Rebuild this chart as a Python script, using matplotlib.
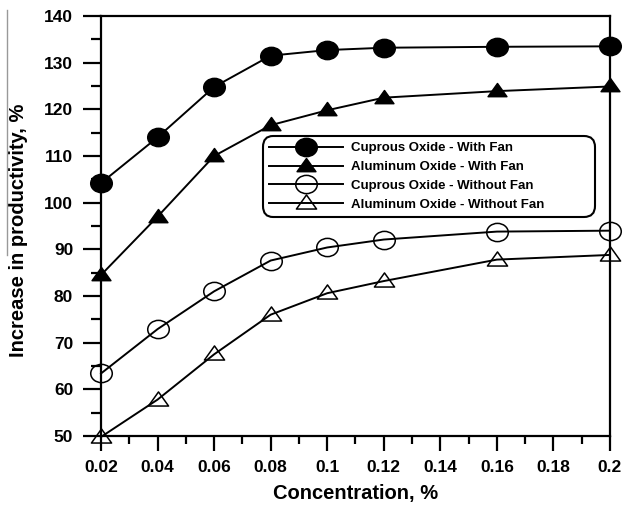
import numpy as np
import matplotlib
matplotlib.use('Agg')
import matplotlib.pyplot as plt
from matplotlib.path import Path
from matplotlib.lines import Line2D
from matplotlib.ticker import MultipleLocator

plt.rcParams['font.family'] = ['Liberation Sans', 'DejaVu Sans']
plt.rcParams['font.weight'] = 'bold'

# data
conc = [0.02, 0.04, 0.06, 0.08, 0.1, 0.12, 0.16, 0.2]
cu_fan = [104.2, 114.0, 124.8, 131.5, 132.7, 133.2, 133.4, 133.5]
al_fan = [84.5, 97.0, 110.0, 116.6, 119.8, 122.5, 123.9, 124.9]
cu_nofan = [63.4, 72.9, 81.0, 87.6, 90.4, 92.1, 93.8, 94.0]
al_nofan = [49.8, 57.8, 67.5, 76.0, 80.6, 83.2, 87.8, 88.8]
labels = ['Cuprous Oxide - With Fan', 'Aluminum Oxide - With Fan',
          'Cuprous Oxide - Without Fan', 'Aluminum Oxide - Without Fan']
xticks = [0.02, 0.04, 0.06, 0.08, 0.1, 0.12, 0.14, 0.16, 0.18, 0.2]
xticklabels = ['0.02', '0.04', '0.06', '0.08', '0.1', '0.12', '0.14', '0.16', '0.18', '0.2']

# slightly squashed markers, like the picture
circ = Path.unit_circle()
ellipse = Path(circ.vertices * np.array([1.18, 1.0]), circ.codes)
tri = Path([(-1.0, -0.55), (1.0, -0.55), (0.0, 0.85), (-1.0, -0.55)],
           [Path.MOVETO, Path.LINETO, Path.LINETO, Path.CLOSEPOLY])

fig = plt.figure(figsize=(6.25, 5.08), dpi=100)
ax = fig.add_axes([101/625, 1-436/508, 509/625, 420/508])

series = [cu_fan, al_fan, cu_nofan, al_nofan]
marks = [ellipse, tri, ellipse, tri]
faces = ['black', 'black', 'none', 'none']
sizes = [15.5, 13.5, 15.5, 14.5]
for ys, m, fc, ms, lab in zip(series, marks, faces, sizes, labels):
    ax.plot(conc, ys, color='black', lw=1.4, marker=m, ms=ms,
            markerfacecolor=fc, markeredgecolor='black', markeredgewidth=1.1,
            clip_on=False, label=lab, zorder=3)

ax.set_xlim(0.02, 0.2)
ax.set_ylim(50, 140)
ax.set_xticks(xticks)
ax.set_xticklabels(xticklabels)
ax.xaxis.set_minor_locator(MultipleLocator(0.01))
ax.yaxis.set_major_locator(MultipleLocator(10))
ax.yaxis.set_minor_locator(MultipleLocator(5))
ax.tick_params(which='both', direction='out', width=1.6, labelsize=12.5)
ax.tick_params(axis='y', which='major', length=13, pad=7)
ax.tick_params(axis='y', which='minor', length=7)
ax.tick_params(axis='x', which='major', length=11, pad=6)
ax.tick_params(axis='x', which='minor', length=6)
for s in ax.spines.values():
    s.set_linewidth(1.6)

ax.set_xlabel('Concentration, %', fontsize=14.5, fontweight='bold')
ax.set_ylabel('Increase in productivity, %', fontsize=14.5, fontweight='bold')
ax.xaxis.set_label_coords(0.5, -0.115)
ax.yaxis.set_label_coords(-0.143, 0.49)

leg = ax.legend(loc='upper left', bbox_to_anchor=(0.318, 0.5, 0.652, 0.214),
                mode='expand', borderaxespad=0,
                handlelength=5.6, handletextpad=0.6, labelspacing=0.5,
                borderpad=0.45, numpoints=1, fancybox=True, framealpha=1,
                edgecolor='black', prop={'weight': 'bold', 'size': 9.5})
leg.get_frame().set_linewidth(1.5)
leg.get_frame().set_boxstyle('round', pad=0, rounding_size=0.8)

# stray grey line at the left edge of the original
fig.add_artist(Line2D([7/625, 7/625], [1-10/508, 1-255/508], color='#999999',
                      lw=1, transform=fig.transFigure))

fig.savefig('out.png', dpi=100)
